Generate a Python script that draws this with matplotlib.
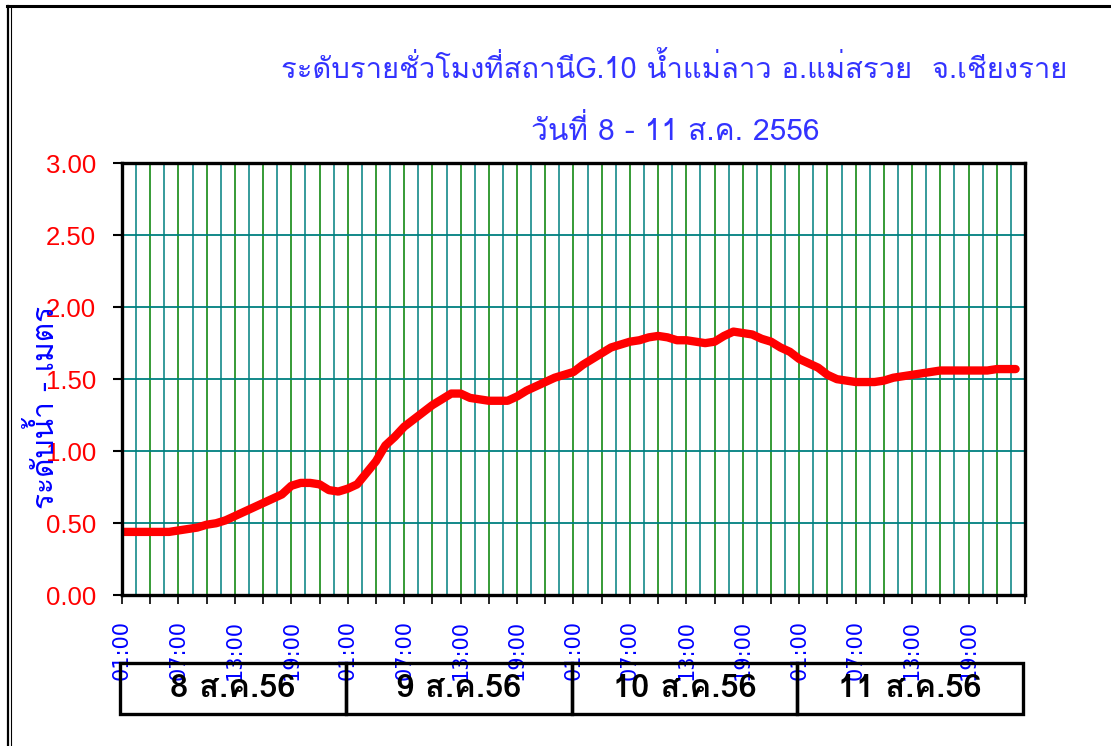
import numpy as np
import matplotlib
matplotlib.use('Agg')
import matplotlib.pyplot as plt
from matplotlib import font_manager
from matplotlib.ft2font import FT2Font
from matplotlib.patches import Rectangle
from matplotlib.lines import Line2D
import matplotlib.transforms as mtransforms

#Hourly water level (m) at G.10, 01:00 on 8 Aug to 24:00 on 11 Aug
level = [0.44, 0.44, 0.44, 0.44, 0.44, 0.44, 0.45, 0.46, 0.47, 0.49,
         0.50, 0.52, 0.55, 0.58, 0.61, 0.64, 0.67, 0.70, 0.76, 0.78,
         0.78, 0.77, 0.73, 0.72, 0.74, 0.77, 0.85, 0.93, 1.04, 1.10,
         1.17, 1.22, 1.27, 1.32, 1.36, 1.40, 1.40, 1.37, 1.36, 1.35,
         1.35, 1.35, 1.38, 1.42, 1.45, 1.48, 1.51, 1.53, 1.55, 1.60,
         1.64, 1.68, 1.72, 1.74, 1.76, 1.77, 1.79, 1.80, 1.79, 1.77,
         1.77, 1.76, 1.75, 1.76, 1.80, 1.83, 1.82, 1.81, 1.78, 1.76,
         1.72, 1.69, 1.64, 1.61, 1.58, 1.53, 1.50, 1.49, 1.48, 1.48,
         1.48, 1.49, 1.51, 1.52, 1.53, 1.54, 1.55, 1.56, 1.56, 1.56,
         1.56, 1.56, 1.56, 1.57, 1.57, 1.57]
hours = np.arange(len(level))

day_labels = ['8 ส.ค.56', '9 ส.ค.56', '10 ส.ค.56', '11 ส.ค.56']
time_labels = ['01:00', '07:00', '13:00', '19:00']
y_ticks = [0.0, 0.5, 1.0, 1.5, 2.0, 2.5, 3.0]

title1 = 'ระดับรายชั่วโมงที่สถานีG.10 น้ำแม่ลาว อ.แม่สรวย  จ.เชียงราย'
title2 = 'วันที่ 8 - 11 ส.ค. 2556'
y_title = 'ระดับน้ำ - เมตร'

#Looking for installed fonts that have Thai glyphs
thai_fonts = []
for f in font_manager.fontManager.ttflist:
    try:
        if ord('ก') in FT2Font(f.fname).get_charmap() and f.name not in thai_fonts:
            thai_fonts.append(f.name)
    except Exception:
        pass
thai_family = thai_fonts + ['DejaVu Sans']

fig = plt.figure(figsize=(11.11, 7.46), dpi=100)
ax = fig.add_axes([0.1098, 0.2020, 0.8128, 0.5795])

#Grid lines
for h in np.arange(1.5, 96, 3):
    ax.axvline(h, color='#008080', lw=1.1, zorder=1)
for h in np.arange(3, 96, 3):
    ax.axvline(h, color='#008000', lw=1.1, zorder=1)
for v in y_ticks[1:-1]:
    ax.axhline(v, color='#008080', lw=1.3, zorder=1)

#Water level line
ax.plot(hours, level, color='#FF0000', lw=6, solid_capstyle='round',
        solid_joinstyle='round', zorder=3)

ax.set_xlim(0, 96)
ax.set_ylim(0, 3)

ax.set_yticks(y_ticks)
ax.set_yticklabels(['%.2f' % v for v in y_ticks], color='#FF0000',
                   fontsize=18.5, family='Liberation Sans')

ax.set_xticks(np.arange(0, 96, 6))
ax.set_xticklabels(time_labels * 4, rotation=90, color='#0000FF',
                   fontsize=15, family='DejaVu Sans', va='top')
ax.set_xticks(list(np.arange(3, 96, 6)) + [96], minor=True)
ax.tick_params(axis='x', which='both', direction='out', length=6.5, width=1.2, pad=11)
ax.tick_params(axis='y', direction='out', length=6.5, width=1.5, pad=12)

for s in ax.spines.values():
    s.set_linewidth(2.4)
    s.set_zorder(4)

#Day boxes under the time labels
trans = mtransforms.blended_transform_factory(ax.transData, ax.transAxes)
for i, lab in enumerate(day_labels):
    ax.add_patch(Rectangle((24 * i - 0.2, -0.2746), 24, 0.118, transform=trans,
                           fill=False, ec='black', lw=2.4, clip_on=False, zorder=2))
    ax.text(24 * i + 11.8, -0.2156, lab, transform=trans, ha='center', va='center',
            fontsize=23.5, fontweight='bold', family=thai_family, color='black')

#Titles
fig.text(0.607, 1 - 68 / 746, title1, ha='center', va='center',
         fontsize=21, color='#3333FF', family=thai_family)
fig.text(0.608, 1 - 130 / 746, title2, ha='center', va='center',
         fontsize=21.5, color='#3333FF', family=thai_family)
fig.text(44 / 1111, 1 - 407 / 746, y_title, ha='center', va='center', rotation=90,
         fontsize=21.5, color='#0000FF', family=thai_family)

#Frame lines round the picture
fig.add_artist(Line2D([7 / 1111, 1], [1 - 6 / 746, 1 - 6 / 746], color='black', lw=2.2))
fig.add_artist(Line2D([7.5 / 1111, 7.5 / 1111], [0, 1 - 6 / 746], color='black', lw=1.6))
fig.add_artist(Line2D([10.5 / 1111, 10.5 / 1111], [0, 1 - 6 / 746], color='black', lw=0.8))

fig.savefig('out.png', dpi=100)
